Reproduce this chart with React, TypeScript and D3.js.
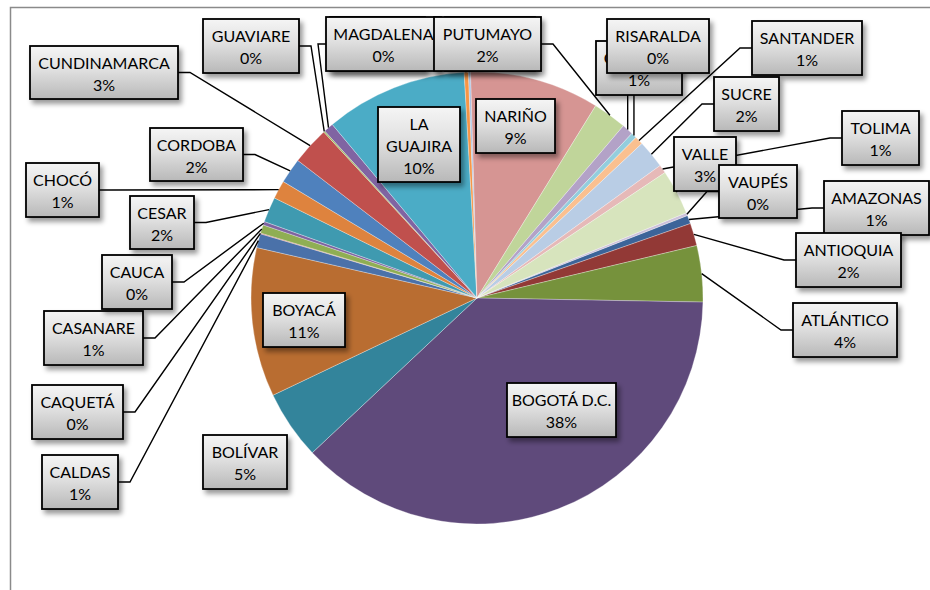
import React from "react";
import * as d3 from "d3";

const categories = [
  "AMAZONAS", "ANTIOQUIA", "ATLÁNTICO", "BOGOTÁ D.C.", "BOLÍVAR", "BOYACÁ",
  "CALDAS", "CAQUETÁ", "CASANARE", "CAUCA", "CESAR", "CHOCÓ", "CORDOBA",
  "CUNDINAMARCA", "GUAVIARE", "HUILA", "LA GUAJIRA", "MAGDALENA", "META",
  "NARIÑO", "PUTUMAYO", "QUINDÍO", "RISARALDA", "SANTANDER", "SUCRE",
  "TOLIMA", "VALLE", "VAUPÉS",
];

const values = [
  0.6, 1.6, 4.0, 37.5, 4.9, 10.6,
  1.0, 0.05, 0.6, 0.25, 1.8, 1.3, 1.8,
  2.7, 0.1, 0.7, 10.1, 0.3, 0.15,
  9.2, 2.4, 0.8, 0.4, 0.6, 2.0,
  0.6, 3.2, 0.2,
];

const colors = [
  "#3C6499", "#923936", "#76923C", "#5F4A7B", "#33849B", "#B96D31",
  "#4A71A9", "#C0504D", "#8FAE53", "#7E63A0", "#3F9AB0", "#DE833E", "#4F81BD",
  "#C0504D", "#9BBB59", "#8064A2", "#4BACC6", "#F79646", "#A7C1E3",
  "#D69593", "#C0D59A", "#B3A2C7", "#93CDDD", "#FAC090", "#B9CDE5",
  "#E6B9B8", "#D7E4BD", "#CCC1DA",
];

// label text per slice ("|" = line break, "" = label hidden behind another box)
const labelNames = [
  "AMAZONAS", "ANTIOQUIA", "ATLÁNTICO", "BOGOTÁ D.C.", "BOLÍVAR", "BOYACÁ",
  "CALDAS", "CAQUETÁ", "CASANARE", "CAUCA", "CESAR", "CHOCÓ", "CORDOBA",
  "CUNDINAMARCA", "GUAVIARE", "", "LA|GUAJIRA", "MAGDALENA", "",
  "NARIÑO", "PUTUMAYO", "QUINDÍO", "RISARALDA", "SANTANDER", "SUCRE",
  "TOLIMA", "VALLE", "VAUPÉS",
];
// label box layout: [x, y, w, h, leader(1/0)]
const labelLayout: number[][] = [
  [824, 181, 105, 54, 1],
  [796, 233, 105, 54, 1],
  [793, 303, 104, 54, 1],
  [507, 383, 109, 54, 0],
  [203, 435, 84, 54, 0],
  [263, 293, 82, 54, 0],
  [42, 455, 76, 54, 1],
  [32, 385, 91, 54, 1],
  [44, 311, 99, 54, 1],
  [102, 255, 70, 54, 1],
  [130, 196, 64, 53, 1],
  [26, 163, 73, 54, 1],
  [150, 128, 93, 53, 1],
  [30, 46, 148, 53, 1],
  [203, 19, 96, 54, 1],
  [330, 17, 95, 54, 1],
  [378, 107, 82, 75, 0],
  [326, 17, 115, 54, 1],
  [445, 17, 90, 54, 1],
  [476, 99, 79, 54, 0],
  [434, 17, 107, 54, 1],
  [596, 41, 86, 54, 1],
  [607, 19, 102, 54, 1],
  [752, 21, 110, 54, 1],
  [714, 77, 65, 54, 1],
  [842, 111, 77, 54, 1],
  [674, 137, 62, 54, 1],
  [719, 165, 78, 53, 1],
];

const W = 930;
const H = 590;
const cx = 477;
const cy = 298;
const R = 226;
const startDeg = 68.6;

export default function App() {
  const total = d3.sum(values);
  const start = (startDeg * Math.PI) / 180;
  const pie = d3
    .pie<number>()
    .sort(null)
    .value((d) => d)
    .startAngle(start)
    .endAngle(start + Math.PI * 2);
  const arcs = pie(values);
  const arcGen = d3.arc<d3.PieArcDatum<number>>().innerRadius(0).outerRadius(R);

  const leaders = arcs.map((a, i) => {
    const [x, y, w, h, lead] = labelLayout[i];
    if (!lead) return null;
    const mid = (a.startAngle + a.endAngle) / 2;
    const tx = cx + R * Math.sin(mid);
    const ty = cy - R * Math.cos(mid);
    let pts: [number, number][];
    if (tx >= x && tx <= x + w) {
      const ay = ty > y + h ? y + h : y;
      pts = [
        [tx, ay],
        [tx, ty],
      ];
    } else {
      const right = tx > x + w;
      const ax = right ? x + w : x;
      const my = y + h / 2;
      const ex = right ? ax + 12 : ax - 12;
      pts = [
        [ax, my],
        [ex, my],
        [tx, ty],
      ];
    }
    return d3.line()(pts);
  });

  return (
    <svg
      width={W}
      height={H}
      style={{ position: "absolute", left: 0, top: 0, display: "block", background: "#fff" }}
      fontFamily="Lato, 'Open Sans', sans-serif"
    >
      <defs>
        <linearGradient id="boxGrad" x1="0" y1="0" x2="0" y2="1">
          <stop offset="0" stopColor="#f5f5f5" />
          <stop offset="0.45" stopColor="#e0e0e0" />
          <stop offset="1" stopColor="#b8b8b8" />
        </linearGradient>
        <filter id="shadow" x="-20%" y="-20%" width="150%" height="160%">
          <feDropShadow dx="3" dy="4" stdDeviation="2.5" floodColor="#000" floodOpacity="0.4" />
        </filter>
      </defs>
      <rect x={10.5} y={7.5} width={960} height={620} fill="#fff" stroke="#8a8a8a" strokeWidth={1.5} />
      <g transform={`translate(${cx},${cy})`}>
        {arcs.map((a, i) => (
          <path
            key={i}
            d={arcGen(a) || ""}
            fill={colors[i]}
            stroke="#ffffff"
            strokeOpacity={0.5}
            strokeWidth={0.6}
          />
        ))}
      </g>
      <g fill="none" stroke="#000" strokeWidth={1.4}>
        {leaders.map((d, i) => (d ? <path key={i} d={d} /> : null))}
      </g>
      {arcs.map((a, i) => {
        const [x, y, w, h] = labelLayout[i];
        const name = labelNames[i];
        const pct = `${Math.round((values[i] / total) * 100)}%`;
        const all = name ? [...name.split("|"), pct] : [];
        return (
          <g key={i}>
            <rect
              x={x}
              y={y}
              width={w}
              height={h}
              fill="url(#boxGrad)"
              stroke="#000"
              strokeWidth={1.8}
              filter="url(#shadow)"
            />
            {all.map((t, j) => (
              <text
                key={j}
                x={x + w / 2}
                y={y + 23 + j * 22}
                textAnchor="middle"
                fontSize={16}
                fill="#000"
              >
                {t}
              </text>
            ))}
          </g>
        );
      })}
    </svg>
  );
}
